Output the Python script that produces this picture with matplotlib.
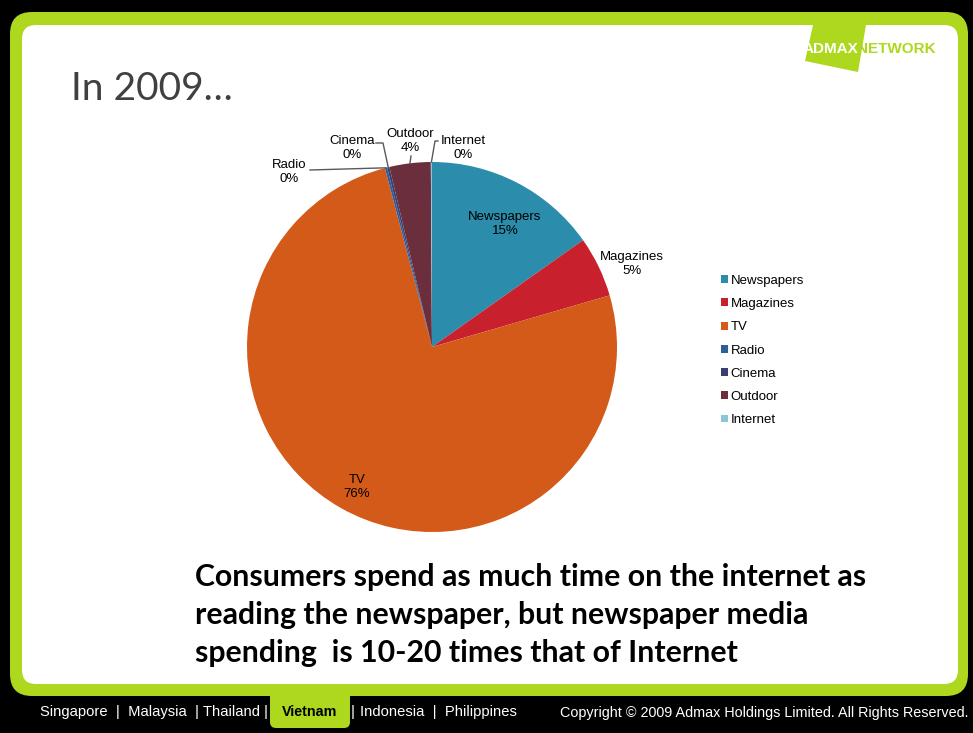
import matplotlib.pyplot as plt
from matplotlib.patches import FancyBboxPatch, Polygon
import numpy as np

# data
media = ['Newspapers', 'Magazines', 'TV', 'Radio', 'Cinema', 'Outdoor', 'Internet']
share = [15.2, 5.3, 75.4, 0.2, 0.2, 3.6, 0.1]
pct_labels = ['15%', '5%', '76%', '0%', '0%', '4%', '0%']
colors = ['#2B8DAB', '#C8202D', '#D35A18', '#2E5E9A', '#3C3E72', '#6A2E3D', '#8CC4D9']

countries_left = 'Singapore  |  Malaysia  | Thailand'
countries_right = 'Indonesia  |  Philippines'

W, H = 973, 733
GREEN = '#AED81D'
fig = plt.figure(figsize=(W / 100, H / 100), dpi=100, facecolor='black')

bg = fig.add_axes([0, 0, 1, 1])
bg.set_xlim(0, W)
bg.set_ylim(H, 0)
bg.axis('off')

# green frame, vietnam tab, white panel
bg.add_patch(FancyBboxPatch((10 + 22, 12 + 22), 958 - 44, 684 - 44,
                            boxstyle='round,pad=22', fc=GREEN, ec='none'))
bg.add_patch(FancyBboxPatch((270 + 6, 680), 80 - 12, 42,
                            boxstyle='round,pad=6', fc=GREEN, ec='none'))
bg.add_patch(FancyBboxPatch((22 + 14, 25 + 14), 936 - 28, 659 - 28,
                            boxstyle='round,pad=14', fc='white', ec='none'))

# logo
bg.add_patch(Polygon([(813, 25), (866, 25), (858, 72), (805, 61)], closed=True,
                     fc=GREEN, ec='none'))
bg.text(858, 49, 'ADMAX', color='white', fontsize=11, fontweight='bold',
        family='Liberation Sans', va='center', ha='right')
bg.text(857, 49, 'NETWORK', color=GREEN, fontsize=11, fontweight='bold',
        family='Liberation Sans', va='center', ha='left')

# title
bg.text(71, 100, 'In 2009\u2026', color='#404040', fontsize=28, family='Lato',
        va='baseline', ha='left')

# bottom statement
statement = ['Consumers spend as much time on the internet as',
             'reading the newspaper, but newspaper media',
             'spending  is 10-20 times that of Internet']
for i, line in enumerate(statement):
    bg.text(195, 586 + i * 38, line, color='black', fontsize=21.8, fontweight='bold',
            family='Lato', va='baseline', ha='left')

# footer
ft = dict(color='white', fontsize=10.6, family='Liberation Sans', va='baseline')
bg.text(40, 716, countries_left, ha='left', **ft)
bg.text(266, 716, '|', ha='center', **ft)
bg.text(310, 716, 'Vietnam', color='black', fontsize=10.3, fontweight='bold',
        family='Liberation Sans', va='baseline', ha='center')
bg.text(353, 716, '|', ha='center', **ft)
bg.text(517, 716, countries_right, ha='right', **ft)
bg.text(968, 717, 'Copyright \u00a9 2009 Admax Holdings Limited. All Rights Reserved.',
        color='white', fontsize=10.4, family='Liberation Sans', va='baseline', ha='right')

# pie
cx, cy, r = 432, 347, 185
pax = fig.add_axes([(cx - r) / W, (H - cy - r) / H, 2 * r / W, 2 * r / H])
wedges, _ = pax.pie(share, colors=colors, startangle=90, counterclock=False,
                    radius=1, wedgeprops=dict(linewidth=0))
pax.set_xlim(-1, 1)
pax.set_ylim(-1, 1)
pax.set_aspect('equal')
pax.axis('off')

# overlay for labels
ov = fig.add_axes([0, 0, 1, 1])
ov.set_xlim(0, W)
ov.set_ylim(H, 0)
ov.axis('off')
ov.patch.set_alpha(0)


def edge_px(w, frac=1.0):
    a = np.deg2rad((w.theta1 + w.theta2) / 2)
    return cx + r * frac * np.cos(a), cy - r * frac * np.sin(a)


lbl = dict(fontsize=9.5, family='Liberation Sans', color='black', ha='center',
           va='center', linespacing=1.2)
# inside labels
ov.text(505, 224, media[0] + '\n' + pct_labels[0], **lbl)
ov.text(357, 487, media[2] + '\n' + pct_labels[2], **lbl)
# outside labels
ov.text(632, 264, media[1] + '\n' + pct_labels[1], **lbl)
ov.text(289, 172, media[3] + '\n' + pct_labels[3], **lbl)
ov.text(352, 148, media[4] + '\n' + pct_labels[4], **lbl)
ov.text(410, 141, media[5] + '\n' + pct_labels[5], **lbl)
ov.text(463, 148, media[6] + '\n' + pct_labels[6], **lbl)

lc = dict(color='#595959', lw=1)
ex, ey = edge_px(wedges[3])
ov.plot([310, ex], [170, ey], **lc)
ex, ey = edge_px(wedges[4])
ov.plot([376, 383, ex], [143, 143, ey], **lc)
ex, ey = edge_px(wedges[5])
ov.plot([411, ex], [156, ey], **lc)
ex, ey = edge_px(wedges[6])
ov.plot([438, 435, ex], [141, 141, ey], **lc)

ov.legend(wedges, media, loc='upper left', bbox_to_anchor=(709 / W, 1 - 263 / H),
          bbox_transform=fig.transFigure, frameon=False,
          prop=dict(family='Liberation Sans', size=9.5),
          handlelength=0.55, handleheight=0.55, handletextpad=0.2,
          labelspacing=0.85)

fig.savefig('out.png', dpi=100, facecolor='black')
